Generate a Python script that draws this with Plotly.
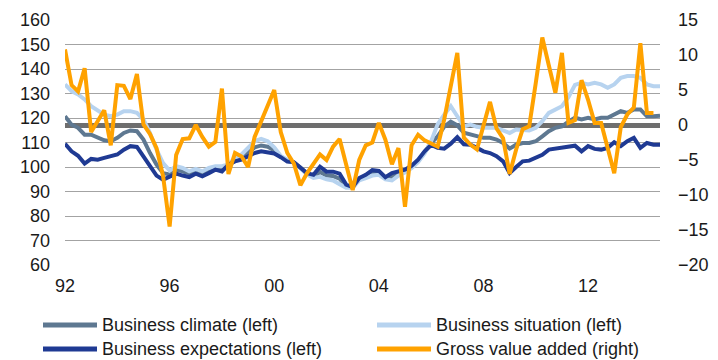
import plotly.graph_objects as go

quarters = [f"{y}Q{q}" for y in range(1992, 2015) for q in range(1, 5)]

tick_quarters = ["1992Q1", "1996Q1", "2000Q1", "2004Q1", "2008Q1", "2012Q1"]
tick_labels = ["92", "96", "00", "04", "08", "12"]

business_climate = [
    120.7, 117.3, 116.0, 113.2, 113.2, 111.9, 110.9, 110.5, 111.9, 113.9,
    114.9, 114.6, 111.2, 105.7, 101.0, 97.5, 97.0, 98.9, 98.2, 97.5,
    98.2, 97.3, 98.2, 98.9, 99.2, 100.3, 103.0, 104.1, 105.7, 108.0,
    108.8, 108.3, 106.8, 104.2, 102.5, 101.8, 99.8, 97.3, 96.0, 98.0,
    96.5, 96.3, 95.2, 92.2, 91.7, 95.0, 96.1, 97.6, 97.6, 95.4,
    96.0, 97.3, 98.3, 100.0, 102.5, 106.0, 109.8, 112.5, 116.5, 118.5,
    117.0, 114.0, 113.2, 112.5, 111.9, 111.9, 111.2, 109.8, 107.5, 109.1,
    109.8, 109.8, 110.5, 112.5, 114.6, 116.0, 116.6, 118.5, 120.1, 119.4,
    120.1, 119.4, 120.1, 120.1, 121.4, 122.8, 122.1, 123.5, 123.5, 120.7,
    120.7, 120.9,
]

business_situation = [
    133.7, 131.0, 129.6, 127.6, 124.8, 123.2, 121.4, 120.7, 121.4, 122.8,
    122.8, 122.1, 119.4, 113.9, 107.1, 101.6, 98.5, 100.3, 99.6, 98.2,
    99.2, 98.2, 99.6, 100.3, 100.3, 101.0, 103.7, 105.1, 107.8, 110.5,
    111.5, 110.5, 108.0, 104.5, 103.0, 101.7, 99.5, 97.0, 95.5, 96.0,
    95.0, 94.5, 93.0, 91.5, 91.5, 94.5, 95.5, 96.5, 96.8, 95.0,
    94.5, 96.5, 97.8, 99.5, 102.0, 105.5, 110.5, 117.5, 121.4, 124.8,
    120.7, 116.6, 117.3, 116.4, 116.0, 116.0, 116.0, 114.9, 113.9, 115.3,
    115.3, 114.9, 116.0, 118.7, 122.1, 123.5, 124.8, 128.5, 133.5, 134.4,
    133.7, 134.4, 133.7, 132.3, 133.7, 136.4, 137.1, 137.1, 136.4, 133.7,
    133.0, 133.0,
]

business_expectations = [
    109.5, 106.4, 104.6, 101.4, 103.3, 103.0, 103.7, 104.6, 105.1, 107.1,
    108.5, 108.2, 104.4, 100.3, 96.5, 94.8, 96.2, 97.3, 96.5, 95.9,
    97.3, 96.2, 97.5, 98.9, 98.2, 101.0, 102.3, 103.0, 104.4, 105.7,
    106.4, 106.0, 105.5, 104.0, 102.2, 102.0, 100.0, 97.5, 96.8, 100.1,
    98.1, 98.1, 97.3, 92.8, 91.8, 95.5, 96.8, 98.7, 98.4, 95.8,
    97.5, 98.2, 98.9, 100.5, 103.0, 106.4, 109.0, 107.8, 107.5, 109.5,
    112.2, 109.3, 109.1, 107.8, 106.4, 105.7, 104.4, 102.3, 97.5, 100.0,
    102.3, 102.6, 103.7, 105.0, 107.1, 107.5, 107.8, 108.0, 108.7, 106.4,
    108.5, 107.4, 107.1, 107.8, 110.1, 108.5, 110.5, 111.9, 107.8, 109.8,
    109.1, 109.1,
]

gross_value_added = [
    10.8, 5.7, 4.8, 8.1, -1.0, 0.6, 2.1, -2.9, 5.7, 5.6,
    3.7, 7.3, 0.1, -1.3, -3.3, -7.3, -14.5, -4.3, -2.0, -1.9,
    0.0, -1.7, -3.1, -2.4, 5.2, -7.0, -4.0, -4.5, -6.0, -1.7,
    0.5, 2.8, 5.0, -1.0, -4.0, -5.5, -8.6, -6.9, -5.5, -4.2,
    -5.0, -3.1, -2.0, -5.5, -9.3, -5.0, -2.9, -2.5, 0.3, -2.1,
    -5.6, -3.3, -11.7, -2.9, -1.4, -2.2, -2.6, -3.1, 0.8, 5.5,
    10.3, -1.8, -2.8, -3.5, 0.0, 3.3, -0.5, -1.9, -7.0, -3.5,
    -0.6, -0.2, 6.0, 12.5, 8.5, 4.6, 10.3, 0.3, 0.7, 6.4,
    3.6, 0.3, 0.3, -3.4, -6.9, -0.3, 1.5, 2.5, 11.7, 1.7,
    1.7,
]

FONT = "Liberation Sans, Arial, sans-serif"
W, H = 718, 360
ML, MR, MT, MB = 65, 58, 20, 95
PW, PH = W - ML - MR, H - MT - MB


def px_x(px):
    return (px - ML) / PW


def px_y(py):
    return (H - MB - py) / PH


series = [
    ("Business climate (left)", business_climate, "#5e7891", "y"),
    ("Business situation (left)", business_situation, "#b7d3ef", "y"),
    ("Business expectations (left)", business_expectations, "#1f3a93", "y"),
    ("Gross value added (right)", gross_value_added, "#ffa200", "y2"),
]

fig = go.Figure()
for name, vals, color, axis in series:
    fig.add_trace(go.Scatter(x=quarters[:len(vals)], y=vals, mode="lines",
                             name=name, yaxis=axis, showlegend=False,
                             line=dict(color=color, width=4)))

# custom legend (2 columns x 2 rows), positioned like the reference
legend_slots = [(43, 325), (377, 325), (43, 349), (377, 349)]
for (name, vals, color, axis), (lx, ly) in zip(series, legend_slots):
    fig.add_shape(type="line", xref="paper", yref="paper",
                  x0=px_x(lx), x1=px_x(lx + 54), y0=px_y(ly), y1=px_y(ly),
                  line=dict(color=color, width=5), layer="above")
    fig.add_annotation(xref="paper", yref="paper", x=px_x(lx + 58), y=px_y(ly),
                       xanchor="left", yanchor="middle", text=name,
                       showarrow=False, borderpad=0,
                       font=dict(family=FONT, size=18, color="#1a1a1a"))

fig.update_layout(
    width=W, height=H,
    margin=dict(l=ML, r=MR, t=MT, b=MB, autoexpand=False),
    paper_bgcolor="white", plot_bgcolor="white",
    font=dict(family=FONT, size=18, color="#1a1a1a"),
    xaxis=dict(
        type="category", range=[0, len(quarters) - 1],
        tickmode="array", tickvals=tick_quarters, ticktext=tick_labels,
        showgrid=False, zeroline=False, showline=False, ticks="",
        ticklabelstandoff=8,
        tickfont=dict(size=18),
    ),
    yaxis=dict(
        range=[60, 160], dtick=10, tick0=60,
        showgrid=True, gridcolor="#a3a3a3", gridwidth=1,
        zeroline=False, showline=False, ticks="",
        ticklabelstandoff=14,
        tickfont=dict(size=18),
    ),
    yaxis2=dict(
        overlaying="y", side="right",
        range=[-20, 15], dtick=5, tick0=-20,
        showgrid=False,
        zeroline=True, zerolinecolor="#6e6e6e", zerolinewidth=4.5,
        showline=False, ticks="",
        ticklabelstandoff=17,
        tickfont=dict(size=18),
    ),
    showlegend=False,
)

fig.write_html("out.html")
